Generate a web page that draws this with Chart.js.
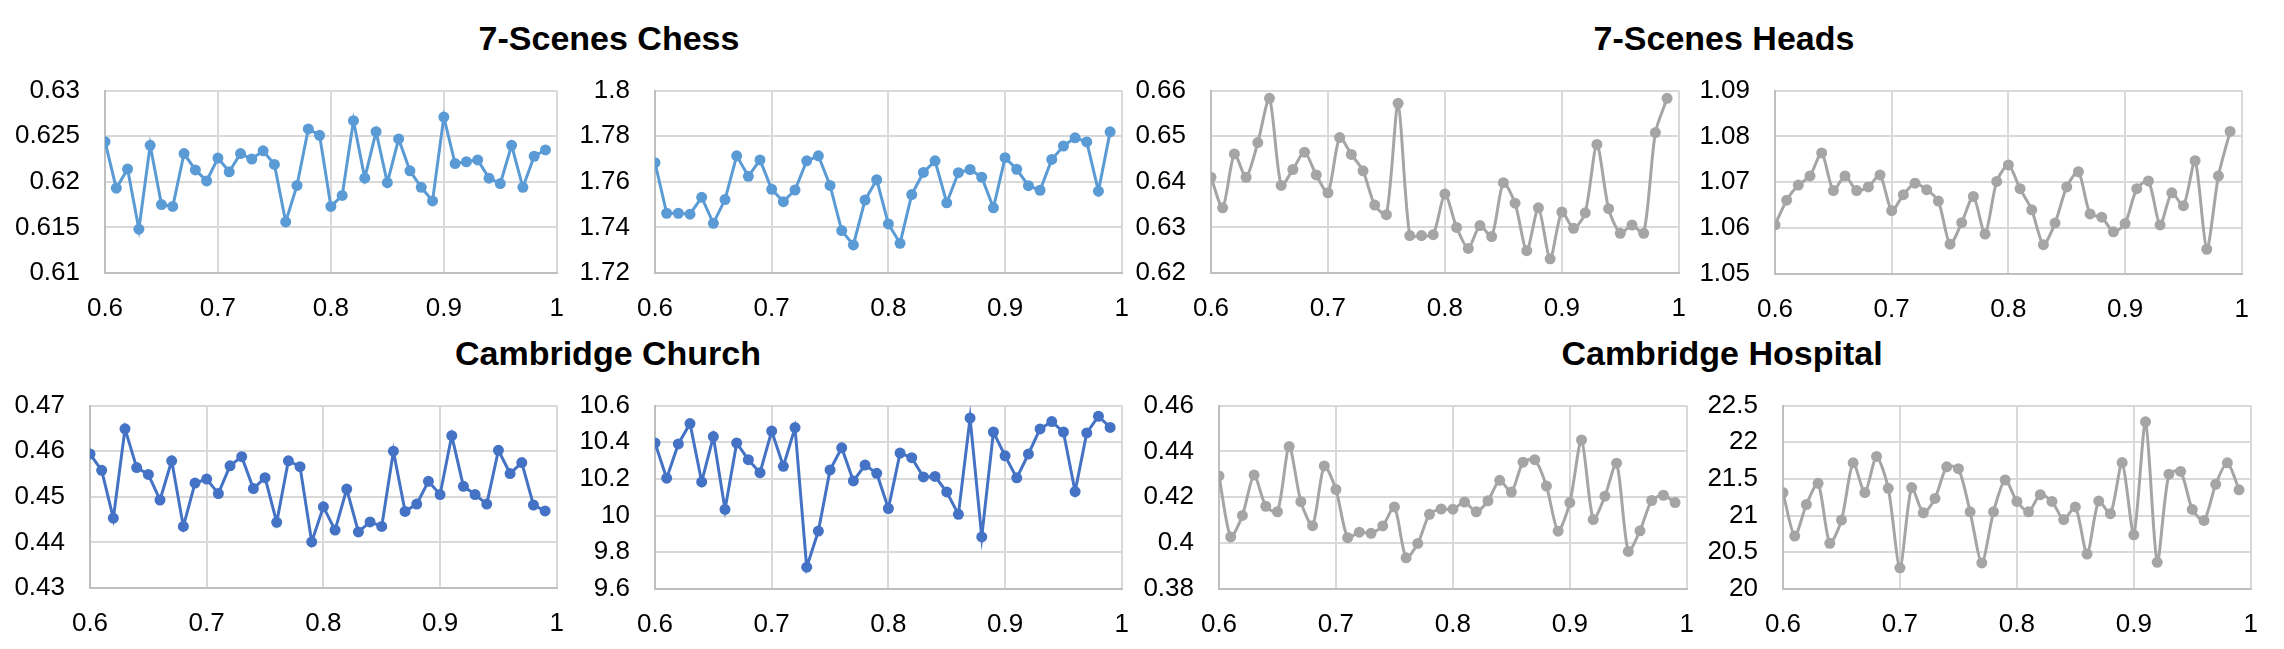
<!DOCTYPE html>
<html>
<head>
<meta charset="utf-8">
<script src="https://cdn.jsdelivr.net/npm/chart.js@4.4.1/dist/chart.umd.min.js"></script>
<style>
  html, body { margin: 0; padding: 0; background: #fff; }
  body { width: 2284px; height: 649px; position: relative; overflow: hidden; }
  .panel { position: absolute; }
  .title {
    position: absolute;
    font-family: "Liberation Sans", Arial, sans-serif;
    font-weight: bold;
    font-size: 34px;
    color: #000;
    white-space: nowrap;
    transform: translate(-50%, -50%);
  }
</style>
</head>
<body>
<div class="title" style="left:609px; top:38px;">7-Scenes Chess</div>
<div class="title" style="left:1724px; top:38px;">7-Scenes Heads</div>
<div class="title" style="left:608px; top:353px;">Cambridge Church</div>
<div class="title" style="left:1722px; top:353px;">Cambridge Hospital</div>

<script>
// threshold values on the x axis
const thresholds = [0.60, 0.61, 0.62, 0.63, 0.64, 0.65, 0.66, 0.67, 0.68, 0.69,
                    0.70, 0.71, 0.72, 0.73, 0.74, 0.75, 0.76, 0.77, 0.78, 0.79,
                    0.80, 0.81, 0.82, 0.83, 0.84, 0.85, 0.86, 0.87, 0.88, 0.89,
                    0.90, 0.91, 0.92, 0.93, 0.94, 0.95, 0.96, 0.97, 0.98, 0.99];

// 7-Scenes Chess
const chessA = [0.6244, 0.6193, 0.6214, 0.6148, 0.6240, 0.6175, 0.6173, 0.6231, 0.6213, 0.6201,
                0.6226, 0.6211, 0.6231, 0.6225, 0.6234, 0.6219, 0.6156, 0.6196, 0.6258, 0.6251,
                0.6173, 0.6185, 0.6267, 0.6204, 0.6255, 0.6199, 0.6247, 0.6212, 0.6194, 0.6179,
                0.6271, 0.6220, 0.6222, 0.6224, 0.6204, 0.6198, 0.6240, 0.6194, 0.6228, 0.6235];
const chessB = [1.7684, 1.7462, 1.7462, 1.7458, 1.7532, 1.7418, 1.7522, 1.7714, 1.7624, 1.7696,
                1.7567, 1.7513, 1.7564, 1.7692, 1.7714, 1.7584, 1.7386, 1.7323, 1.7520, 1.7609,
                1.7415, 1.7330, 1.7544, 1.7641, 1.7692, 1.7508, 1.7640, 1.7654, 1.7620, 1.7486,
                1.7706, 1.7655, 1.7583, 1.7563, 1.7698, 1.7757, 1.7793, 1.7775, 1.7559, 1.7819];

// 7-Scenes Heads
const headsA = [0.6410, 0.6343, 0.6461, 0.6410, 0.6486, 0.6583, 0.6392, 0.6427, 0.6465, 0.6415,
                0.6376, 0.6497, 0.6460, 0.6424, 0.6349, 0.6328, 0.6572, 0.6282, 0.6282, 0.6284,
                0.6373, 0.6300, 0.6254, 0.6304, 0.6280, 0.6398, 0.6353, 0.6249, 0.6343, 0.6231,
                0.6334, 0.6298, 0.6332, 0.6482, 0.6341, 0.6287, 0.6305, 0.6287, 0.6508, 0.6583];
const headsB = [1.0607, 1.0661, 1.0694, 1.0714, 1.0764, 1.0682, 1.0714, 1.0682, 1.0690, 1.0716,
                1.0638, 1.0673, 1.0698, 1.0684, 1.0659, 1.0565, 1.0612, 1.0669, 1.0587, 1.0702,
                1.0738, 1.0686, 1.0640, 1.0564, 1.0611, 1.0690, 1.0723, 1.0631, 1.0624, 1.0592,
                1.0610, 1.0686, 1.0703, 1.0607, 1.0677, 1.0649, 1.0747, 1.0554, 1.0714, 1.0811];

// Cambridge Church
const churchA = [0.4594, 0.4558, 0.4453, 0.4649, 0.4564, 0.4549, 0.4493, 0.4579, 0.4435, 0.4530,
                 0.4539, 0.4507, 0.4568, 0.4588, 0.4518, 0.4542, 0.4444, 0.4579, 0.4566, 0.4401,
                 0.4478, 0.4427, 0.4517, 0.4423, 0.4445, 0.4435, 0.4600, 0.4468, 0.4484, 0.4534,
                 0.4505, 0.4634, 0.4523, 0.4505, 0.4484, 0.4602, 0.4551, 0.4575, 0.4482, 0.4469];
const churchB = [10.396, 10.204, 10.391, 10.502, 10.184, 10.431, 10.034, 10.396, 10.305, 10.234,
                 10.461, 10.269, 10.480, 9.719, 9.916, 10.249, 10.370, 10.189, 10.276, 10.231,
                 10.039, 10.341, 10.316, 10.211, 10.214, 10.129, 10.007, 10.532, 9.884, 10.456,
                 10.326, 10.206, 10.336, 10.473, 10.513, 10.456, 10.131, 10.451, 10.542, 10.481];

// Cambridge Hospital
const hospitalA = [0.4293, 0.4027, 0.4121, 0.4297, 0.4161, 0.4137, 0.4422, 0.4181, 0.4076, 0.4337,
                   0.4234, 0.4024, 0.4048, 0.4043, 0.4075, 0.4158, 0.3936, 0.3999, 0.4126, 0.4149,
                   0.4148, 0.4179, 0.4137, 0.4185, 0.4274, 0.4223, 0.4353, 0.4364, 0.4249, 0.4052,
                   0.4177, 0.4450, 0.4103, 0.4205, 0.4349, 0.3964, 0.4054, 0.4186, 0.4209, 0.4177];
const hospitalB = [21.315, 20.722, 21.152, 21.440, 20.622, 20.939, 21.720, 21.315, 21.807, 21.373,
                   20.288, 21.382, 21.039, 21.235, 21.665, 21.640, 21.052, 20.355, 21.052, 21.486,
                   21.194, 21.052, 21.286, 21.194, 20.947, 21.119, 20.476, 21.198, 21.027, 21.724,
                   20.739, 22.279, 20.363, 21.565, 21.603, 21.085, 20.935, 21.427, 21.720, 21.352];

const BLUE = '#5b9bd5';
const DARK_BLUE = '#4472c4';
const GRAY = '#a5a5a5';

// plot area of each panel: [left, top, right, bottom], y axis [min, max, step]
const panels = [
  { data: chessA,    color: BLUE,      smooth: 0,    box: [105, 74, 560, 273],   y: [0.61, 0.63, 0.005] },
  { data: chessB,    color: BLUE,      smooth: 0,    box: [655, 74, 1125, 273],  y: [1.72, 1.80, 0.02] },
  { data: headsA,    color: GRAY,      smooth: 0.25, box: [1211, 74, 1682, 273], y: [0.62, 0.66, 0.01] },
  { data: headsB,    color: GRAY,      smooth: 0.25, box: [1775, 74, 2245, 274], y: [1.05, 1.09, 0.01] },
  { data: churchA,   color: DARK_BLUE, smooth: 0,    box: [90, 389, 560, 588],   y: [0.43, 0.47, 0.01] },
  { data: churchB,   color: DARK_BLUE, smooth: 0,    box: [655, 389, 1125, 589], y: [9.6, 10.6, 0.2] },
  { data: hospitalA, color: GRAY,      smooth: 0.25, box: [1219, 389, 1690, 589], y: [0.38, 0.46, 0.02] },
  { data: hospitalB, color: GRAY,      smooth: 0.25, box: [1783, 389, 2254, 589], y: [20, 22.5, 0.5] }
];

const Y_AXIS_W = 100;
const X_AXIS_H = 56;
const PAD = 24;
const tickFont = { family: '"Liberation Sans", Arial, sans-serif', size: 26 };
const fmt = v => String(parseFloat(Number(v).toFixed(4)));

panels.forEach(p => {
  const [l, t, r, b] = p.box;
  const div = document.createElement('div');
  div.className = 'panel';
  const w = (r - l) + Y_AXIS_W + PAD;
  const h = (b - t) + PAD + X_AXIS_H;
  div.style.left = (l - Y_AXIS_W) + 'px';
  div.style.top = (t - PAD) + 'px';
  const canvas = document.createElement('canvas');
  canvas.width = w;
  canvas.height = h;
  div.appendChild(canvas);
  document.body.appendChild(div);

  new Chart(canvas.getContext('2d'), {
    type: 'line',
    data: {
      datasets: [{
        data: thresholds.map((x, i) => ({ x: x, y: p.data[i] })),
        borderColor: p.color,
        backgroundColor: p.color,
        borderWidth: 3,
        pointRadius: 5.5,
        pointBorderWidth: 0,
        pointBackgroundColor: p.color,
        tension: p.smooth,
        fill: false
      }]
    },
    options: {
      responsive: false,
      animation: false,
      layout: { padding: { top: PAD, right: PAD, left: 0, bottom: 0 } },
      plugins: { legend: { display: false }, tooltip: { enabled: false } },
      scales: {
        x: {
          type: 'linear',
          min: 0.6,
          max: 1,
          afterFit: s => { s.height = X_AXIS_H; },
          ticks: { stepSize: 0.1, font: tickFont, color: '#000', padding: 20, maxRotation: 0, callback: fmt },
          grid: { color: '#d9d9d9', lineWidth: 2, drawTicks: false },
          border: { color: '#bfbfbf', width: 2 }
        },
        y: {
          min: p.y[0],
          max: p.y[1],
          afterFit: s => { s.width = Y_AXIS_W; },
          ticks: { stepSize: p.y[2], font: tickFont, color: '#000', padding: 25, callback: fmt },
          grid: { color: '#d9d9d9', lineWidth: 2, drawTicks: false },
          border: { color: '#bfbfbf', width: 2 }
        }
      }
    }
  });
});
</script>
</body>
</html>
